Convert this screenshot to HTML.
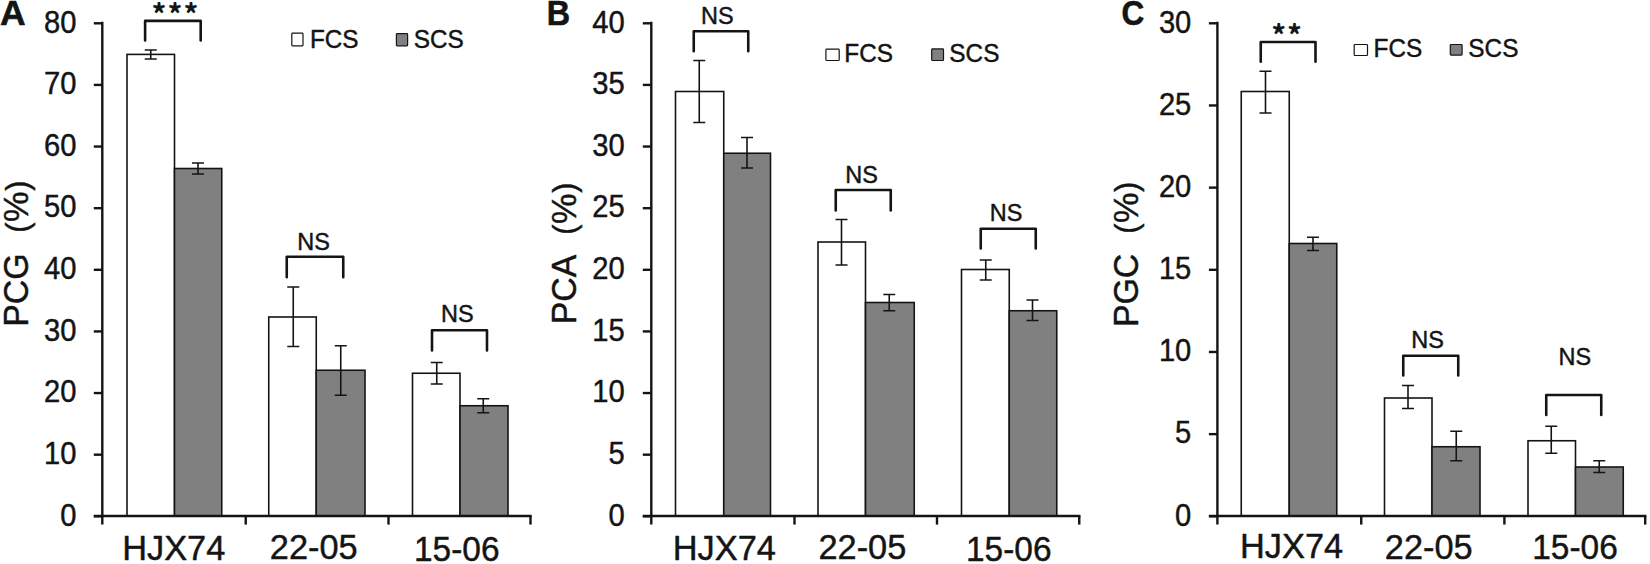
<!DOCTYPE html>
<html lang="en">
<head>
<meta charset="utf-8">
<title>Figure</title>
<style>
html,body{margin:0;padding:0;background:#fff;}
body{width:1650px;height:564px;overflow:hidden;}
svg{display:block;}
svg text{font-family:'Liberation Sans', Arial, Helvetica, sans-serif;fill:#141414;stroke:#141414;stroke-width:0.45px;stroke-linejoin:round;}
svg text.pl{stroke-width:0.6px;}
svg text.star{font-family:'Noto Sans CJK SC', 'Noto Sans CJK JP', 'Liberation Mono', sans-serif;stroke-width:0.2px;}
</style>
</head>
<body>
<svg width="1650" height="564" viewBox="0 0 1650 564">
<g id="panelA">
<rect x="127.00" y="54.40" width="47.50" height="461.60" fill="#fff" stroke="#141414" stroke-width="1.6"/>
<rect x="174.50" y="168.50" width="47.25" height="347.50" fill="#808080" stroke="#141414" stroke-width="1.6"/>
<rect x="268.75" y="317.00" width="47.50" height="199.00" fill="#fff" stroke="#141414" stroke-width="1.6"/>
<rect x="316.25" y="370.25" width="48.75" height="145.75" fill="#808080" stroke="#141414" stroke-width="1.6"/>
<rect x="412.50" y="373.25" width="47.50" height="142.75" fill="#fff" stroke="#141414" stroke-width="1.6"/>
<rect x="460.00" y="405.75" width="48.00" height="110.25" fill="#808080" stroke="#141414" stroke-width="1.6"/>
<path d="M102.30 21.80V524.60" stroke="#141414" stroke-width="2.4" fill="none"/>
<path d="M93.80 516.00H531.70" stroke="#141414" stroke-width="2.4" fill="none"/>
<path d="M93.80 516.30H102.30" stroke="#141414" stroke-width="2.4" fill="none"/>
<path d="M93.80 454.68H102.30" stroke="#141414" stroke-width="2.4" fill="none"/>
<path d="M93.80 393.05H102.30" stroke="#141414" stroke-width="2.4" fill="none"/>
<path d="M93.80 331.43H102.30" stroke="#141414" stroke-width="2.4" fill="none"/>
<path d="M93.80 269.80H102.30" stroke="#141414" stroke-width="2.4" fill="none"/>
<path d="M93.80 208.18H102.30" stroke="#141414" stroke-width="2.4" fill="none"/>
<path d="M93.80 146.55H102.30" stroke="#141414" stroke-width="2.4" fill="none"/>
<path d="M93.80 84.92H102.30" stroke="#141414" stroke-width="2.4" fill="none"/>
<path d="M93.80 23.30H102.30" stroke="#141414" stroke-width="2.4" fill="none"/>
<path d="M245.75 516.00V524.60" stroke="#141414" stroke-width="2.4" fill="none"/>
<path d="M388.50 516.00V524.60" stroke="#141414" stroke-width="2.4" fill="none"/>
<path d="M530.50 516.00V524.60" stroke="#141414" stroke-width="2.4" fill="none"/>
<path d="M150.75 50.00V59.00M144.75 50.00H156.75M144.75 59.00H156.75" fill="none" stroke="#141414" stroke-width="1.6"/>
<path d="M198.00 163.00V174.00M192.00 163.00H204.00M192.00 174.00H204.00" fill="none" stroke="#141414" stroke-width="1.6"/>
<path d="M293.25 287.00V346.50M287.25 287.00H299.25M287.25 346.50H299.25" fill="none" stroke="#141414" stroke-width="1.6"/>
<path d="M340.75 345.75V395.25M334.75 345.75H346.75M334.75 395.25H346.75" fill="none" stroke="#141414" stroke-width="1.6"/>
<path d="M436.75 362.50V384.00M430.75 362.50H442.75M430.75 384.00H442.75" fill="none" stroke="#141414" stroke-width="1.6"/>
<path d="M483.25 398.75V412.75M477.25 398.75H489.25M477.25 412.75H489.25" fill="none" stroke="#141414" stroke-width="1.6"/>
<path d="M145.10 40.40V20.90H200.70V40.40" fill="none" stroke="#141414" stroke-width="2.6" stroke-linejoin="round" stroke-linecap="round"/>
<path d="M286.75 277.20V256.75H343.25V277.20" fill="none" stroke="#141414" stroke-width="2.6" stroke-linejoin="round" stroke-linecap="round"/>
<path d="M432.00 350.45V330.25H487.00V350.45" fill="none" stroke="#141414" stroke-width="2.6" stroke-linejoin="round" stroke-linecap="round"/>
<text x="175.75" y="24.80" font-size="28.5" text-anchor="middle" font-weight="bold" class="star" letter-spacing="1.5">***</text>
<text transform="translate(313.50 249.75) scale(0.955 1)" font-size="24.6" text-anchor="middle" font-weight="normal" >NS</text>
<text transform="translate(457.25 322.25) scale(0.955 1)" font-size="24.6" text-anchor="middle" font-weight="normal" >NS</text>
<rect x="291.80" y="33.10" width="11.20" height="12.70" rx="0.8" fill="#fff" stroke="#141414" stroke-width="1.2"/>
<text transform="translate(334.25 47.60) scale(0.955 1)" font-size="25.5" text-anchor="middle" font-weight="normal" >FCS</text>
<rect x="396.40" y="33.70" width="11.20" height="12.10" rx="0.8" fill="#808080" stroke="#141414" stroke-width="1.2"/>
<text transform="translate(438.80 47.60) scale(0.955 1)" font-size="25.5" text-anchor="middle" font-weight="normal" >SCS</text>
<text transform="translate(76.40 525.50) scale(0.94 1)" font-size="31" text-anchor="end" font-weight="normal" >0</text>
<text transform="translate(76.40 463.88) scale(0.94 1)" font-size="31" text-anchor="end" font-weight="normal" >10</text>
<text transform="translate(76.40 402.25) scale(0.94 1)" font-size="31" text-anchor="end" font-weight="normal" >20</text>
<text transform="translate(76.40 340.62) scale(0.94 1)" font-size="31" text-anchor="end" font-weight="normal" >30</text>
<text transform="translate(76.40 279.00) scale(0.94 1)" font-size="31" text-anchor="end" font-weight="normal" >40</text>
<text transform="translate(76.40 217.38) scale(0.94 1)" font-size="31" text-anchor="end" font-weight="normal" >50</text>
<text transform="translate(76.40 155.75) scale(0.94 1)" font-size="31" text-anchor="end" font-weight="normal" >60</text>
<text transform="translate(76.40 94.12) scale(0.94 1)" font-size="31" text-anchor="end" font-weight="normal" >70</text>
<text transform="translate(76.40 32.50) scale(0.94 1)" font-size="31" text-anchor="end" font-weight="normal" >80</text>
<text transform="translate(173.75 559.70) scale(0.955 1)" font-size="36" text-anchor="middle" font-weight="normal" >HJX74</text>
<text transform="translate(313.75 559.40) scale(0.955 1)" font-size="36" text-anchor="middle" font-weight="normal" >22-05</text>
<text transform="translate(456.75 560.60) scale(0.93 1)" font-size="36" text-anchor="middle" font-weight="normal" >15-06</text>
<text transform="translate(12.85 25.00) scale(1.03 1)" font-size="34.5" text-anchor="middle" font-weight="bold" class="pl">A</text>
<text transform="translate(28.40 326.80) rotate(-90) scale(0.94 1)" font-size="36">PCG</text>
<text transform="translate(28.40 232.70) rotate(-90) scale(0.955 1)" font-size="36" letter-spacing="0.6"><tspan font-size="32" dy="-0.9">(</tspan><tspan dy="0.9">%</tspan><tspan font-size="32" dy="-0.9">)</tspan></text>
</g>
<g id="panelB">
<rect x="675.50" y="91.50" width="48.25" height="424.50" fill="#fff" stroke="#141414" stroke-width="1.6"/>
<rect x="723.75" y="153.25" width="46.75" height="362.75" fill="#808080" stroke="#141414" stroke-width="1.6"/>
<rect x="818.00" y="242.00" width="47.50" height="274.00" fill="#fff" stroke="#141414" stroke-width="1.6"/>
<rect x="865.50" y="302.50" width="48.75" height="213.50" fill="#808080" stroke="#141414" stroke-width="1.6"/>
<rect x="961.50" y="269.50" width="47.75" height="246.50" fill="#fff" stroke="#141414" stroke-width="1.6"/>
<rect x="1009.25" y="310.75" width="47.50" height="205.25" fill="#808080" stroke="#141414" stroke-width="1.6"/>
<path d="M651.30 21.80V524.60" stroke="#141414" stroke-width="2.4" fill="none"/>
<path d="M642.80 516.00H1080.45" stroke="#141414" stroke-width="2.4" fill="none"/>
<path d="M642.80 516.30H651.30" stroke="#141414" stroke-width="2.4" fill="none"/>
<path d="M642.80 454.68H651.30" stroke="#141414" stroke-width="2.4" fill="none"/>
<path d="M642.80 393.05H651.30" stroke="#141414" stroke-width="2.4" fill="none"/>
<path d="M642.80 331.43H651.30" stroke="#141414" stroke-width="2.4" fill="none"/>
<path d="M642.80 269.80H651.30" stroke="#141414" stroke-width="2.4" fill="none"/>
<path d="M642.80 208.18H651.30" stroke="#141414" stroke-width="2.4" fill="none"/>
<path d="M642.80 146.55H651.30" stroke="#141414" stroke-width="2.4" fill="none"/>
<path d="M642.80 84.92H651.30" stroke="#141414" stroke-width="2.4" fill="none"/>
<path d="M642.80 23.30H651.30" stroke="#141414" stroke-width="2.4" fill="none"/>
<path d="M794.50 516.00V524.60" stroke="#141414" stroke-width="2.4" fill="none"/>
<path d="M937.00 516.00V524.60" stroke="#141414" stroke-width="2.4" fill="none"/>
<path d="M1079.25 516.00V524.60" stroke="#141414" stroke-width="2.4" fill="none"/>
<path d="M699.25 60.50V122.50M693.25 60.50H705.25M693.25 122.50H705.25" fill="none" stroke="#141414" stroke-width="1.6"/>
<path d="M747.00 137.50V168.00M741.00 137.50H753.00M741.00 168.00H753.00" fill="none" stroke="#141414" stroke-width="1.6"/>
<path d="M841.50 219.50V265.00M835.50 219.50H847.50M835.50 265.00H847.50" fill="none" stroke="#141414" stroke-width="1.6"/>
<path d="M889.25 294.50V310.75M883.25 294.50H895.25M883.25 310.75H895.25" fill="none" stroke="#141414" stroke-width="1.6"/>
<path d="M985.75 260.00V280.00M979.75 260.00H991.75M979.75 280.00H991.75" fill="none" stroke="#141414" stroke-width="1.6"/>
<path d="M1032.50 300.00V320.50M1026.50 300.00H1038.50M1026.50 320.50H1038.50" fill="none" stroke="#141414" stroke-width="1.6"/>
<path d="M693.75 51.20V31.25H748.25V51.20" fill="none" stroke="#141414" stroke-width="2.6" stroke-linejoin="round" stroke-linecap="round"/>
<path d="M835.75 210.45V190.00H890.75V210.45" fill="none" stroke="#141414" stroke-width="2.6" stroke-linejoin="round" stroke-linecap="round"/>
<path d="M980.75 248.45V228.75H1035.75V248.45" fill="none" stroke="#141414" stroke-width="2.6" stroke-linejoin="round" stroke-linecap="round"/>
<text transform="translate(717.25 23.75) scale(0.955 1)" font-size="24.6" text-anchor="middle" font-weight="normal" >NS</text>
<text transform="translate(861.50 182.50) scale(0.955 1)" font-size="24.6" text-anchor="middle" font-weight="normal" >NS</text>
<text transform="translate(1006.00 221.25) scale(0.955 1)" font-size="24.6" text-anchor="middle" font-weight="normal" >NS</text>
<rect x="825.90" y="49.20" width="13.30" height="11.30" rx="0.8" fill="#fff" stroke="#141414" stroke-width="1.2"/>
<text transform="translate(868.65 62.00) scale(0.955 1)" font-size="25.5" text-anchor="middle" font-weight="normal" >FCS</text>
<rect x="931.70" y="48.90" width="11.80" height="11.60" rx="0.8" fill="#808080" stroke="#141414" stroke-width="1.2"/>
<text transform="translate(974.40 62.00) scale(0.955 1)" font-size="25.5" text-anchor="middle" font-weight="normal" >SCS</text>
<text transform="translate(624.60 525.50) scale(0.94 1)" font-size="31" text-anchor="end" font-weight="normal" >0</text>
<text transform="translate(624.60 463.88) scale(0.94 1)" font-size="31" text-anchor="end" font-weight="normal" >5</text>
<text transform="translate(624.60 402.25) scale(0.94 1)" font-size="31" text-anchor="end" font-weight="normal" >10</text>
<text transform="translate(624.60 340.62) scale(0.94 1)" font-size="31" text-anchor="end" font-weight="normal" >15</text>
<text transform="translate(624.60 279.00) scale(0.94 1)" font-size="31" text-anchor="end" font-weight="normal" >20</text>
<text transform="translate(624.60 217.38) scale(0.94 1)" font-size="31" text-anchor="end" font-weight="normal" >25</text>
<text transform="translate(624.60 155.75) scale(0.94 1)" font-size="31" text-anchor="end" font-weight="normal" >30</text>
<text transform="translate(624.60 94.12) scale(0.94 1)" font-size="31" text-anchor="end" font-weight="normal" >35</text>
<text transform="translate(624.60 32.50) scale(0.94 1)" font-size="31" text-anchor="end" font-weight="normal" >40</text>
<text transform="translate(724.38 559.70) scale(0.955 1)" font-size="36" text-anchor="middle" font-weight="normal" >HJX74</text>
<text transform="translate(862.38 558.95) scale(0.955 1)" font-size="36" text-anchor="middle" font-weight="normal" >22-05</text>
<text transform="translate(1008.75 560.70) scale(0.93 1)" font-size="36" text-anchor="middle" font-weight="normal" >15-06</text>
<text transform="translate(558.35 25.00) scale(0.91 1)" font-size="35.5" text-anchor="middle" font-weight="bold" class="pl">B</text>
<text transform="translate(575.70 324.20) rotate(-90) scale(0.94 1)" font-size="36">PCA</text>
<text transform="translate(575.70 234.70) rotate(-90) scale(0.955 1)" font-size="36" letter-spacing="0.6"><tspan font-size="32" dy="-0.9">(</tspan><tspan dy="0.9">%</tspan><tspan font-size="32" dy="-0.9">)</tspan></text>
</g>
<g id="panelC">
<rect x="1241.25" y="91.50" width="48.00" height="424.50" fill="#fff" stroke="#141414" stroke-width="1.6"/>
<rect x="1289.25" y="243.50" width="47.50" height="272.50" fill="#808080" stroke="#141414" stroke-width="1.6"/>
<rect x="1384.50" y="398.00" width="47.50" height="118.00" fill="#fff" stroke="#141414" stroke-width="1.6"/>
<rect x="1432.00" y="446.75" width="48.00" height="69.25" fill="#808080" stroke="#141414" stroke-width="1.6"/>
<rect x="1528.00" y="440.75" width="47.50" height="75.25" fill="#fff" stroke="#141414" stroke-width="1.6"/>
<rect x="1575.50" y="467.00" width="47.75" height="49.00" fill="#808080" stroke="#141414" stroke-width="1.6"/>
<path d="M1217.40 21.80V524.60" stroke="#141414" stroke-width="2.4" fill="none"/>
<path d="M1208.90 516.00H1646.40" stroke="#141414" stroke-width="2.4" fill="none"/>
<path d="M1208.90 516.30H1217.40" stroke="#141414" stroke-width="2.4" fill="none"/>
<path d="M1208.90 434.13H1217.40" stroke="#141414" stroke-width="2.4" fill="none"/>
<path d="M1208.90 351.97H1217.40" stroke="#141414" stroke-width="2.4" fill="none"/>
<path d="M1208.90 269.80H1217.40" stroke="#141414" stroke-width="2.4" fill="none"/>
<path d="M1208.90 187.63H1217.40" stroke="#141414" stroke-width="2.4" fill="none"/>
<path d="M1208.90 105.47H1217.40" stroke="#141414" stroke-width="2.4" fill="none"/>
<path d="M1208.90 23.30H1217.40" stroke="#141414" stroke-width="2.4" fill="none"/>
<path d="M1361.25 516.00V524.60" stroke="#141414" stroke-width="2.4" fill="none"/>
<path d="M1504.40 516.00V524.60" stroke="#141414" stroke-width="2.4" fill="none"/>
<path d="M1645.20 516.00V524.60" stroke="#141414" stroke-width="2.4" fill="none"/>
<path d="M1265.50 71.25V113.00M1259.50 71.25H1271.50M1259.50 113.00H1271.50" fill="none" stroke="#141414" stroke-width="1.6"/>
<path d="M1313.00 237.25V250.50M1307.00 237.25H1319.00M1307.00 250.50H1319.00" fill="none" stroke="#141414" stroke-width="1.6"/>
<path d="M1408.00 385.50V408.50M1402.00 385.50H1414.00M1402.00 408.50H1414.00" fill="none" stroke="#141414" stroke-width="1.6"/>
<path d="M1456.25 431.25V460.75M1450.25 431.25H1462.25M1450.25 460.75H1462.25" fill="none" stroke="#141414" stroke-width="1.6"/>
<path d="M1551.25 426.25V453.25M1545.25 426.25H1557.25M1545.25 453.25H1557.25" fill="none" stroke="#141414" stroke-width="1.6"/>
<path d="M1599.25 460.75V472.50M1593.25 460.75H1605.25M1593.25 472.50H1605.25" fill="none" stroke="#141414" stroke-width="1.6"/>
<path d="M1260.75 61.70V42.00H1315.50V61.70" fill="none" stroke="#141414" stroke-width="2.6" stroke-linejoin="round" stroke-linecap="round"/>
<path d="M1403.25 375.45V355.75H1458.25V375.45" fill="none" stroke="#141414" stroke-width="2.6" stroke-linejoin="round" stroke-linecap="round"/>
<path d="M1546.25 414.95V395.00H1601.25V414.95" fill="none" stroke="#141414" stroke-width="2.6" stroke-linejoin="round" stroke-linecap="round"/>
<text x="1287.38" y="46.25" font-size="28.5" text-anchor="middle" font-weight="bold" class="star" letter-spacing="1.5">**</text>
<text transform="translate(1427.50 347.75) scale(0.955 1)" font-size="24.6" text-anchor="middle" font-weight="normal" >NS</text>
<text transform="translate(1574.75 364.50) scale(0.955 1)" font-size="24.6" text-anchor="middle" font-weight="normal" >NS</text>
<rect x="1354.20" y="44.50" width="13.30" height="11.00" rx="0.8" fill="#fff" stroke="#141414" stroke-width="1.2"/>
<text transform="translate(1397.90 57.00) scale(0.955 1)" font-size="25.5" text-anchor="middle" font-weight="normal" >FCS</text>
<rect x="1450.30" y="44.50" width="11.80" height="10.60" rx="0.8" fill="#808080" stroke="#141414" stroke-width="1.2"/>
<text transform="translate(1493.35 57.00) scale(0.955 1)" font-size="25.5" text-anchor="middle" font-weight="normal" >SCS</text>
<text transform="translate(1191.30 525.50) scale(0.94 1)" font-size="31" text-anchor="end" font-weight="normal" >0</text>
<text transform="translate(1191.30 443.33) scale(0.94 1)" font-size="31" text-anchor="end" font-weight="normal" >5</text>
<text transform="translate(1191.30 361.17) scale(0.94 1)" font-size="31" text-anchor="end" font-weight="normal" >10</text>
<text transform="translate(1191.30 279.00) scale(0.94 1)" font-size="31" text-anchor="end" font-weight="normal" >15</text>
<text transform="translate(1191.30 196.83) scale(0.94 1)" font-size="31" text-anchor="end" font-weight="normal" >20</text>
<text transform="translate(1191.30 114.67) scale(0.94 1)" font-size="31" text-anchor="end" font-weight="normal" >25</text>
<text transform="translate(1191.30 32.50) scale(0.94 1)" font-size="31" text-anchor="end" font-weight="normal" >30</text>
<text transform="translate(1291.62 557.80) scale(0.955 1)" font-size="36" text-anchor="middle" font-weight="normal" >HJX74</text>
<text transform="translate(1428.75 558.50) scale(0.955 1)" font-size="36" text-anchor="middle" font-weight="normal" >22-05</text>
<text transform="translate(1575.00 559.40) scale(0.93 1)" font-size="36" text-anchor="middle" font-weight="normal" >15-06</text>
<text transform="translate(1132.75 24.80) scale(0.9 1)" font-size="35" text-anchor="middle" font-weight="bold" class="pl">C</text>
<text transform="translate(1138.00 327.10) rotate(-90) scale(0.94 1)" font-size="36">PGC</text>
<text transform="translate(1138.00 233.80) rotate(-90) scale(0.955 1)" font-size="36" letter-spacing="0.6"><tspan font-size="32" dy="-0.9">(</tspan><tspan dy="0.9">%</tspan><tspan font-size="32" dy="-0.9">)</tspan></text>
</g>
</svg>
</body>
</html>
